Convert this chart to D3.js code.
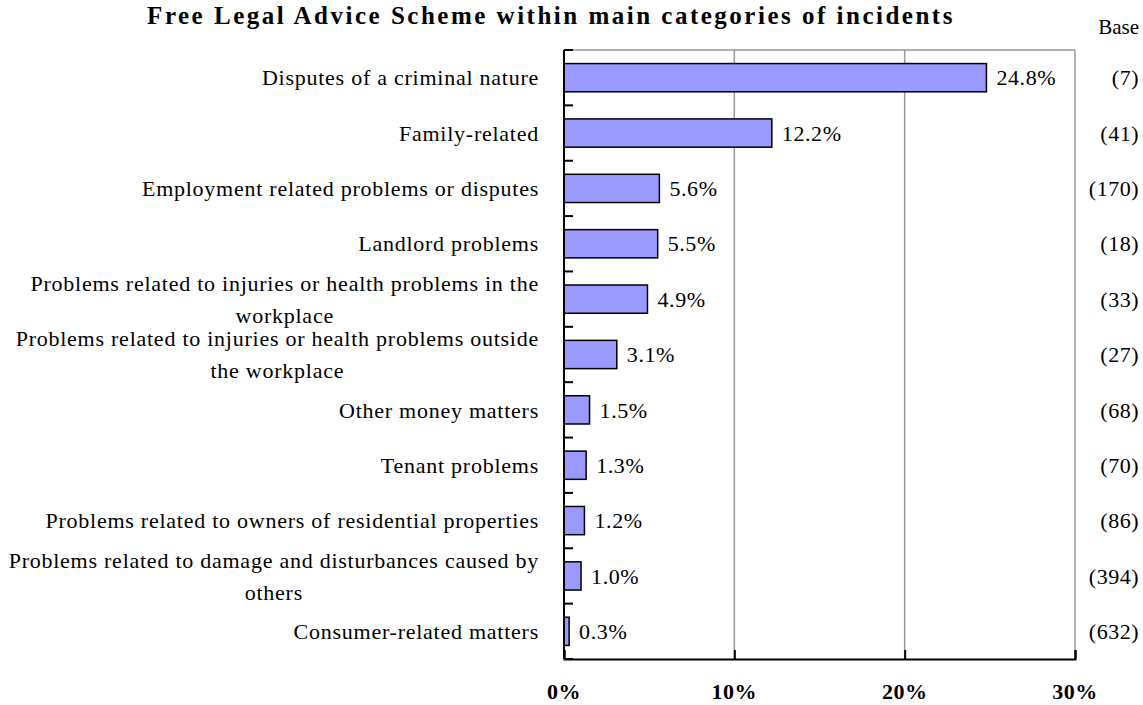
<!DOCTYPE html>
<html>
<head>
<meta charset="utf-8">
<script src="https://cdn.jsdelivr.net/npm/d3@7"></script>
<style>
  html, body { margin: 0; padding: 0; background: #fff; }
  svg { display: block; }
  text { font-family: "Liberation Serif", "Times New Roman", serif; fill: #000; }
</style>
</head>
<body>
<svg id="chart" width="1143" height="705"></svg>
<script>
const title = "Free Legal Advice Scheme within main categories of incidents";
const categories = [
  "Disputes of a criminal nature",
  "Family-related",
  "Employment related problems or disputes",
  "Landlord problems",
  "Problems related to injuries or health problems in the\nworkplace",
  "Problems related to injuries or health problems outside\nthe workplace",
  "Other money matters",
  "Tenant problems",
  "Problems related to owners of residential properties",
  "Problems related to damage and disturbances caused by\nothers",
  "Consumer-related matters"
];
const values = [24.8, 12.2, 5.6, 5.5, 4.9, 3.1, 1.5, 1.3, 1.2, 1.0, 0.3];
const bases = ["(7)", "(41)", "(170)", "(18)", "(33)", "(27)", "(68)", "(70)", "(86)", "(394)", "(632)"];
const baseHeader = "Base";
const xTicks = [0, 10, 20, 30];
const xTickLabels = ["0%", "10%", "20%", "30%"];

const svg = d3.select("#chart");
const L = 564, R = 1075, T = 50, B = 659;

const x = d3.scaleLinear().domain([0, 30]).range([L, R]);
const y = d3.scaleBand().domain(categories).range([T, B]).paddingInner(0.49).paddingOuter(0.245);
const step = y.step();

// title
svg.append("text").attr("x", 551).attr("y", 24).attr("text-anchor", "middle")
  .attr("font-size", 25).attr("font-weight", "bold").style("letter-spacing", "2.5px")
  .text(title);

// gridlines
svg.append("g").selectAll("line").data(xTicks.slice(1)).join("line")
  .attr("x1", d => x(d)).attr("x2", d => x(d)).attr("y1", T).attr("y2", B)
  .attr("stroke", "#999").attr("stroke-width", 1.5);
// top border
svg.append("line").attr("x1", L).attr("x2", R).attr("y1", T).attr("y2", T)
  .attr("stroke", "#999").attr("stroke-width", 1.5);

// bars
svg.append("g").selectAll("rect").data(values).join("rect")
  .attr("x", x(0)).attr("y", (d, i) => y(categories[i]))
  .attr("width", d => x(d) - x(0)).attr("height", y.bandwidth())
  .attr("fill", "#9999ff").attr("stroke", "#000").attr("stroke-width", 1.5);

// value labels
svg.append("g").selectAll("text").data(values).join("text")
  .attr("x", d => x(d) + 10).attr("y", (d, i) => y(categories[i]) + y.bandwidth() / 2)
  .attr("dy", "0.35em").attr("font-size", 22).style("letter-spacing", "0.6px")
  .text(d => d.toFixed(1) + "%");

// left axis with inward ticks at band boundaries
const boundaries = d3.range(categories.length + 1).map(i => T + i * step);
svg.append("line").attr("x1", L).attr("x2", L).attr("y1", T).attr("y2", B)
  .attr("stroke", "#000").attr("stroke-width", 2);
svg.append("g").selectAll("line").data(boundaries).join("line")
  .attr("x1", L).attr("x2", L + 9).attr("y1", d => d).attr("y2", d => d)
  .attr("stroke", "#000").attr("stroke-width", 2);

// bottom axis
const xAxis = d3.axisBottom(x).tickValues(xTicks).tickSize(-9).tickFormat("");
const gx = svg.append("g").attr("transform", `translate(0,${B})`).call(xAxis);
gx.select(".domain").attr("stroke", "#000").attr("stroke-width", 2);
gx.selectAll(".tick line").attr("stroke", "#000").attr("stroke-width", 2);
svg.append("g").selectAll("text").data(xTicks).join("text")
  .attr("x", d => x(d)).attr("y", 699).attr("text-anchor", "middle")
  .attr("font-size", 22).attr("font-weight", "bold").style("letter-spacing", "0.5px")
  .text((d, i) => xTickLabels[i]);

// category labels (multi-line, centered block right-aligned)
const labelRight = 539;
const lineGap = 32;
categories.forEach((c, i) => {
  const lines = c.split("\n");
  const cy = y(c) + y.bandwidth() / 2;
  const g = svg.append("g");
  const texts = lines.map((ln, j) => g.append("text")
    .attr("font-size", 22).style("letter-spacing", "0.75px")
    .attr("y", cy + (j - (lines.length - 1) / 2) * lineGap).attr("dy", "0.35em")
    .attr("text-anchor", "middle").text(ln));
  const maxW = d3.max(texts, t => t.node().getComputedTextLength());
  texts.forEach(t => t.attr("x", labelRight - maxW / 2));
});

// base column
svg.append("text").attr("x", 1139).attr("y", 34).attr("text-anchor", "end")
  .attr("font-size", 21).text(baseHeader);
svg.append("g").selectAll("text").data(bases).join("text")
  .attr("x", 1139).attr("y", (d, i) => y(categories[i]) + y.bandwidth() / 2)
  .attr("dy", "0.35em").attr("text-anchor", "end").attr("font-size", 22)
  .style("letter-spacing", "0.5px").text(d => d);
</script>
</body>
</html>
